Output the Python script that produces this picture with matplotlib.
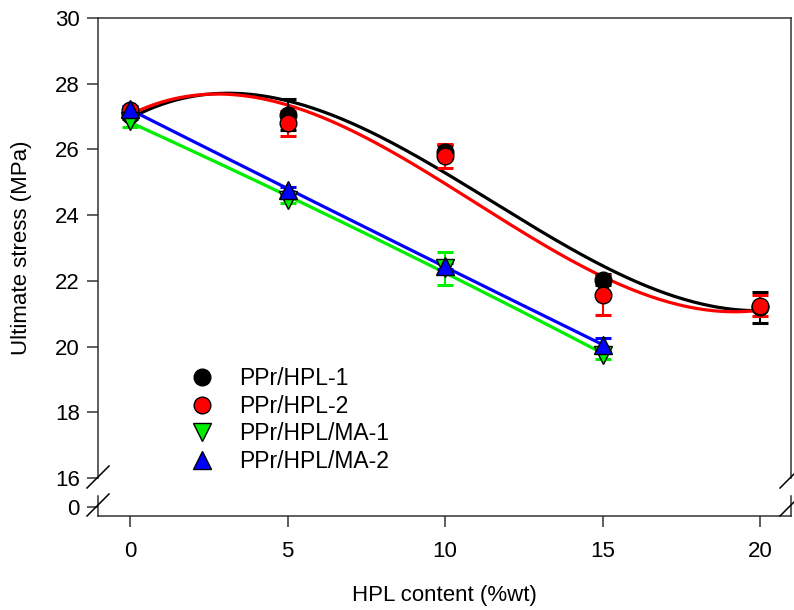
import numpy as np
import matplotlib
matplotlib.use("Agg")
import matplotlib.pyplot as plt
from matplotlib.lines import Line2D

plt.rcParams['font.family'] = ['Liberation Sans', 'DejaVu Sans']

# ---- data ----
hpl = [0, 5, 10, 15, 20]
hpl_ma = [0, 5, 10, 15]

ppr_hpl_1 = [27.05, 27.05, 25.93, 22.03, 21.20]
ppr_hpl_1_err = [0.12, 0.47, 0.20, 0.17, 0.47]
ppr_hpl_2 = [27.20, 26.79, 25.80, 21.57, 21.25]
ppr_hpl_2_err = [0.10, 0.38, 0.36, 0.62, 0.33]
ppr_hpl_ma_1 = [26.87, 24.45, 22.38, 19.75]
ppr_hpl_ma_1_err = [0.20, 0.08, 0.50, 0.12]
ppr_hpl_ma_2 = [27.22, 24.78, 22.45, 20.05]
ppr_hpl_ma_2_err = [0.10, 0.08, 0.10, 0.20]

labels = ["PPr/HPL-1", "PPr/HPL-2", "PPr/HPL/MA-1", "PPr/HPL/MA-2"]
y_ticks = [16, 18, 20, 22, 24, 26, 28, 30]
x_ticks = [0, 5, 10, 15, 20]

W, H = 794, 610
fig = plt.figure(figsize=(W / 100, H / 100), dpi=100)

L, R = 98, 791
top_up, bot_up = 18, 478
top_lo, bot_lo = 496, 516
ax = fig.add_axes([L / W, 1 - bot_up / H, (R - L) / W, (bot_up - top_up) / H])
ax2 = fig.add_axes([L / W, 1 - bot_lo / H, (R - L) / W, (bot_lo - top_lo) / H])

FS = 16
ppu = (bot_up - top_up) / 14.0
ax.set_ylim(16, 30)
ax2.set_ylim(-(bot_lo - 507) / ppu, (507 - top_lo) / ppu)
for a in (ax, ax2):
    a.set_xlim(-1.02, 20.98)
    a.set_facecolor('none')
    for s in a.spines.values():
        s.set_linewidth(1.1)
        s.set_color('#333333')
    a.tick_params(axis='both', direction='out', length=8, width=1.1,
                  labelsize=FS, colors='#333333', labelcolor='black')

ax.spines['bottom'].set_visible(False)
ax2.spines['top'].set_visible(False)
ax.set_xticks([])
ax.set_yticks(y_ticks)
ax2.set_yticks([0])
ax2.set_xticks(x_ticks)
ax2.tick_params(axis='x', pad=10)
ax.tick_params(axis='y', pad=5)
ax2.tick_params(axis='y', pad=5)

series = [
    (hpl, ppr_hpl_1, ppr_hpl_1_err, 'black', 'o', 3),
    (hpl, ppr_hpl_2, ppr_hpl_2_err, 'red', 'o', 3),
    (hpl_ma, ppr_hpl_ma_1, ppr_hpl_ma_1_err, '#00ee00', 'v', 2),
    (hpl_ma, ppr_hpl_ma_2, ppr_hpl_ma_2_err, 'blue', '^', 2),
]

handles = []
for i, (x, y, e, c, m, deg) in enumerate(series):
    x = np.asarray(x, float)
    y = np.asarray(y, float)
    coef = np.polyfit(x, y, deg)
    xs = np.linspace(x.min(), x.max(), 200)
    ax.plot(xs, np.polyval(coef, xs), color=c, lw=2.3, zorder=2 + i * 0.1)
for i, (x, y, e, c, m, deg) in enumerate(series):
    ax.errorbar(x, y, yerr=e, fmt='none', ecolor=c,
                elinewidth=1.5, capsize=6, capthick=2.2, zorder=3 + i * 0.1)
    ms = 12 if m == 'o' else 13
    ax.plot(x, y, linestyle='none', marker=m, markersize=ms,
            markerfacecolor=c, markeredgecolor='black', markeredgewidth=1.0,
            zorder=4 + i * 0.1)
    handles.append(Line2D([], [], linestyle='none', marker=m, markersize=ms,
                          markerfacecolor=c, markeredgecolor='black',
                          markeredgewidth=1.0))

leg = ax.legend(handles, labels, loc='upper left',
                bbox_to_anchor=((184 - L) / (R - L), (bot_up - 367) / (bot_up - top_up)),
                frameon=False, fontsize=16.5, handletextpad=0.8,
                labelspacing=0.2, borderaxespad=0, handlelength=1.6,
                borderpad=0)

ax.set_ylabel("Ultimate stress (MPa)", fontsize=FS)
ax.yaxis.set_label_coords((22 - L) / (R - L), 0.5)
ax2.set_xlabel("HPL content (%wt)", fontsize=FS)
ax2.xaxis.set_label_coords(0.5, -(596 - bot_lo) / (bot_lo - top_lo))
ax2.xaxis.label.set_va('center')
ax.yaxis.label.set_va('center')

# break marks
def slash(cx, cy):
    fig.add_artist(Line2D([(cx - 11) / W, (cx + 11) / W],
                          [1 - (cy + 11) / H, 1 - (cy - 11) / H],
                          color='black', lw=1.1, transform=fig.transFigure))

for cx in (L, R):
    slash(cx, 477)
    slash(cx, 505)

fig.savefig("out.png", dpi=100)
